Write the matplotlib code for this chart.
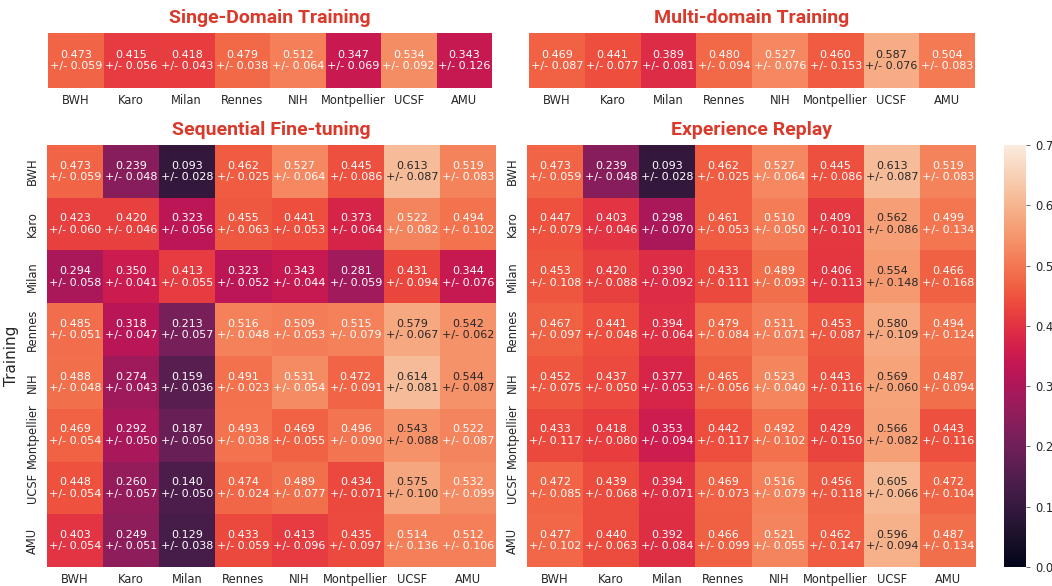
import numpy as np
import matplotlib
matplotlib.use("Agg")
import matplotlib.pyplot as plt
import seaborn as sns

sites = ["BWH", "Karo", "Milan", "Rennes", "NIH", "Montpellier", "UCSF", "AMU"]

single_mean = [0.473, 0.415, 0.418, 0.479, 0.512, 0.347, 0.534, 0.343]
single_std = [0.059, 0.056, 0.043, 0.038, 0.064, 0.069, 0.092, 0.126]

multi_mean = [0.469, 0.441, 0.389, 0.480, 0.527, 0.460, 0.587, 0.504]
multi_std = [0.087, 0.077, 0.081, 0.094, 0.076, 0.153, 0.076, 0.083]

seq_mean = [
    [0.473, 0.239, 0.093, 0.462, 0.527, 0.445, 0.613, 0.519],
    [0.423, 0.420, 0.323, 0.455, 0.441, 0.373, 0.522, 0.494],
    [0.294, 0.350, 0.413, 0.323, 0.343, 0.281, 0.431, 0.344],
    [0.485, 0.318, 0.213, 0.516, 0.509, 0.515, 0.579, 0.542],
    [0.488, 0.274, 0.159, 0.491, 0.531, 0.472, 0.614, 0.544],
    [0.469, 0.292, 0.187, 0.493, 0.469, 0.496, 0.543, 0.522],
    [0.448, 0.260, 0.140, 0.474, 0.489, 0.434, 0.575, 0.532],
    [0.403, 0.249, 0.129, 0.433, 0.413, 0.435, 0.514, 0.512],
]
seq_std = [
    [0.059, 0.048, 0.028, 0.025, 0.064, 0.086, 0.087, 0.083],
    [0.060, 0.046, 0.056, 0.063, 0.053, 0.064, 0.082, 0.102],
    [0.058, 0.041, 0.055, 0.052, 0.044, 0.059, 0.094, 0.076],
    [0.051, 0.047, 0.057, 0.048, 0.053, 0.079, 0.067, 0.062],
    [0.048, 0.043, 0.036, 0.023, 0.054, 0.091, 0.081, 0.087],
    [0.054, 0.050, 0.050, 0.038, 0.055, 0.090, 0.088, 0.087],
    [0.054, 0.057, 0.050, 0.024, 0.077, 0.071, 0.100, 0.099],
    [0.054, 0.051, 0.038, 0.059, 0.096, 0.097, 0.136, 0.106],
]

replay_mean = [
    [0.473, 0.239, 0.093, 0.462, 0.527, 0.445, 0.613, 0.519],
    [0.447, 0.403, 0.298, 0.461, 0.510, 0.409, 0.562, 0.499],
    [0.453, 0.420, 0.390, 0.433, 0.489, 0.406, 0.554, 0.466],
    [0.467, 0.441, 0.394, 0.479, 0.511, 0.453, 0.580, 0.494],
    [0.452, 0.437, 0.377, 0.465, 0.523, 0.443, 0.569, 0.487],
    [0.433, 0.418, 0.353, 0.442, 0.492, 0.429, 0.566, 0.443],
    [0.472, 0.439, 0.394, 0.469, 0.516, 0.456, 0.605, 0.472],
    [0.477, 0.440, 0.392, 0.466, 0.521, 0.462, 0.596, 0.487],
]
replay_std = [
    [0.059, 0.048, 0.028, 0.025, 0.064, 0.086, 0.087, 0.083],
    [0.079, 0.046, 0.070, 0.053, 0.050, 0.101, 0.086, 0.134],
    [0.108, 0.088, 0.092, 0.111, 0.093, 0.113, 0.148, 0.168],
    [0.097, 0.048, 0.064, 0.084, 0.071, 0.087, 0.109, 0.124],
    [0.075, 0.050, 0.053, 0.056, 0.040, 0.116, 0.060, 0.094],
    [0.117, 0.080, 0.094, 0.117, 0.102, 0.150, 0.082, 0.116],
    [0.085, 0.068, 0.071, 0.073, 0.079, 0.118, 0.066, 0.104],
    [0.102, 0.063, 0.084, 0.099, 0.055, 0.147, 0.094, 0.134],
]

W, H = 1052, 586
VMIN, VMAX = 0.0, 0.7
TITLE_COLOR = "#d93a2b"
ANNOT_SIZE = 8.0
TICK_SIZE = 8.3

plt.rcParams["font.family"] = "DejaVu Sans"


def px_axes(fig, x0, y0, x1, y1):
    return fig.add_axes([x0 / W, 1 - y1 / H, (x1 - x0) / W, (y1 - y0) / H])


def labels(mean, std):
    mean = np.atleast_2d(mean)
    std = np.atleast_2d(std)
    return np.array([["{:.3f}\n+/- {:.3f}".format(m, s) for m, s in zip(rm, rs)]
                     for rm, rs in zip(mean, std)])


def draw(ax, mean, std, title, show_y):
    data = np.atleast_2d(mean)
    sns.heatmap(data, ax=ax, cmap="rocket", vmin=VMIN, vmax=VMAX, cbar=False,
                annot=labels(mean, std), fmt="",
                annot_kws={"fontsize": ANNOT_SIZE, "linespacing": 1.2},
                xticklabels=sites, yticklabels=sites if show_y else False)
    ax.set_title(title, color=TITLE_COLOR, fontsize=14, fontweight="bold",
                 family="Roboto", pad=7)
    ax.tick_params(axis="x", length=0, labelsize=TICK_SIZE, pad=4, labelcolor="#262626")
    ax.tick_params(axis="y", length=0, labelsize=TICK_SIZE, pad=6, labelcolor="#262626")
    plt.setp(ax.get_xticklabels(), rotation=0)
    if show_y:
        plt.setp(ax.get_yticklabels(), rotation=90, va="center")


fig = plt.figure(figsize=(W / 100, H / 100), dpi=100)

ax1 = px_axes(fig, 48, 33, 492, 88)
draw(ax1, single_mean, single_std, "Singe-Domain Training", False)

ax2 = px_axes(fig, 529, 33, 975, 88)
draw(ax2, multi_mean, multi_std, "Multi-domain Training", False)

ax3 = px_axes(fig, 47, 145, 496, 567)
draw(ax3, seq_mean, seq_std, "Sequential Fine-tuning", True)
ax3.set_ylabel("Training", fontsize=11, labelpad=5, color="#262626")

ax4 = px_axes(fig, 527, 145, 976, 567)
draw(ax4, replay_mean, replay_std, "Experience Replay", True)

cax = px_axes(fig, 1004, 145, 1026, 567)
sm = plt.cm.ScalarMappable(cmap="rocket", norm=plt.Normalize(VMIN, VMAX))
cb = fig.colorbar(sm, cax=cax)
cb.outline.set_visible(False)
cb.set_ticks(np.arange(0, 0.71, 0.1))
cax.tick_params(labelsize=TICK_SIZE, length=3, width=0.6, color="#555555",
                labelcolor="#262626")

fig.savefig("out.png", dpi=100)
